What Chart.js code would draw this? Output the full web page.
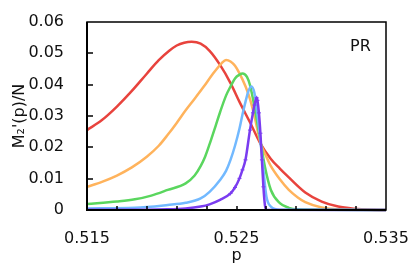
<!DOCTYPE html>
<html>
<head>
<meta charset="UTF-8">
<title>M2'(p)/N vs p</title>
<script src="https://cdn.jsdelivr.net/npm/chart.js"></script>
<style>
  body { margin: 0; background: #fff; }
</style>
</head>
<body>
<canvas id="chart" width="415" height="268"></canvas>
<script>
// values
const redP = [0.515, 0.516, 0.517, 0.518, 0.519, 0.5198, 0.5205, 0.521, 0.5215, 0.522, 0.5226, 0.5232, 0.5239, 0.5246, 0.5252, 0.5259, 0.5266, 0.5273, 0.5279, 0.5285, 0.5296, 0.5307, 0.5318, 0.5329, 0.534, 0.535];
const redV = [0.0255, 0.0287, 0.0330, 0.0380, 0.0435, 0.0478, 0.0508, 0.0525, 0.0534, 0.0537, 0.0531, 0.0508, 0.0463, 0.0405, 0.0345, 0.0280, 0.0212, 0.0163, 0.0132, 0.0104, 0.0056, 0.0027, 0.0011, 0.0004, 0.0001, 0];

const orangeP = [0.515, 0.516, 0.517, 0.518, 0.519, 0.5198, 0.5204, 0.521, 0.5216, 0.5222, 0.5228, 0.5234, 0.524, 0.5243, 0.5246, 0.5249, 0.5252, 0.5256, 0.5259, 0.5262, 0.5266, 0.527, 0.5273, 0.5279, 0.5285, 0.5291, 0.5296, 0.5307, 0.5318, 0.535];
const orangeV = [0.0074, 0.0090, 0.0110, 0.0136, 0.0170, 0.0205, 0.0240, 0.0278, 0.0318, 0.0355, 0.0393, 0.0433, 0.0468, 0.0479, 0.0474, 0.0460, 0.0436, 0.0395, 0.0355, 0.0300, 0.0215, 0.0170, 0.0140, 0.0098, 0.0064, 0.0040, 0.0025, 0.0008, 0.0002, 0];

const greenP = [0.515, 0.517, 0.5182, 0.5193, 0.5204, 0.5216, 0.5222, 0.5226, 0.5229, 0.5232, 0.5236, 0.5239, 0.5243, 0.5246, 0.5249, 0.5252, 0.5254, 0.5257, 0.5259, 0.5262, 0.5266, 0.5269, 0.5273, 0.5279, 0.5285, 0.529, 0.535];
const greenV = [0.0019, 0.0027, 0.0034, 0.0046, 0.0064, 0.0085, 0.0110, 0.0140, 0.0170, 0.0210, 0.0268, 0.0312, 0.0365, 0.0394, 0.0420, 0.0432, 0.0436, 0.0425, 0.0399, 0.0330, 0.0220, 0.0138, 0.0064, 0.0022, 0.0007, 0.0002, 0];

const blueP = [0.515, 0.5182, 0.5204, 0.5216, 0.5226, 0.5232, 0.5239, 0.5243, 0.5246, 0.5249, 0.5252, 0.5254, 0.5256, 0.5258, 0.526, 0.5262, 0.5264, 0.5266, 0.5268, 0.527, 0.5273, 0.5279, 0.535];
const blueV = [0.0005, 0.0007, 0.0016, 0.0023, 0.0037, 0.0058, 0.0096, 0.0125, 0.0160, 0.0205, 0.0260, 0.0305, 0.0345, 0.0380, 0.0394, 0.0373, 0.0305, 0.0220, 0.0128, 0.0043, 0.0011, 0.0001, 0];

const purpleP = [0.515, 0.519, 0.5204, 0.5216, 0.5226, 0.5232, 0.5239, 0.5246, 0.5249, 0.5252, 0.5254, 0.5256, 0.5259, 0.5261, 0.5262, 0.52635, 0.5264, 0.5265, 0.5266, 0.5267, 0.5268, 0.5269, 0.527, 0.535];
const purpleV = [0.0001, 0.0001, 0.0002, 0.0005, 0.0011, 0.0018, 0.0032, 0.0053, 0.0072, 0.0101, 0.0128, 0.0160, 0.0255, 0.0310, 0.0335, 0.0358, 0.0350, 0.0310, 0.0245, 0.0160, 0.0074, 0.0016, 0.0001, 0];

const xLabels = [0.515, 0.525, 0.535];

function pts(ps, vs) {
  return ps.map((p, i) => ({ x: p, y: vs[i] }));
}

function line(label, ps, vs, color) {
  return {
    label: label,
    data: pts(ps, vs),
    borderColor: color,
    backgroundColor: color,
    borderWidth: 2.5,
    pointRadius: 0,
    cubicInterpolationMode: 'monotone',
    clip: 4
  };
}

const purple = line('purple', purpleP, purpleV, '#7a3cf0');
purple.pointStyle = 'cross';
purple.pointRadius = ctx => (ctx.raw && ctx.raw.y > 0.004 ? 2 : 0);
purple.pointBorderWidth = 1;

// box + inward tick marks
const frame = {
  id: 'frame',
  afterDraw(chart) {
    const { ctx, chartArea: a, scales } = chart;
    ctx.save();
    ctx.strokeStyle = '#000';
    ctx.lineWidth = 1.5;
    ctx.strokeRect(a.left, a.top, a.right - a.left, a.bottom - a.top);
    ctx.lineWidth = 2;
    ctx.beginPath();
    ctx.moveTo(a.left, a.top); ctx.lineTo(a.left, a.bottom); ctx.lineTo(a.right, a.bottom);
    ctx.stroke();
    ctx.lineWidth = 1.5;
    scales.x.ticks.forEach(t => {
      const px = Math.round(scales.x.getPixelForValue(t.value));
      if (px <= a.left + 1 || px >= a.right - 1) return;
      ctx.beginPath(); ctx.moveTo(px, a.bottom); ctx.lineTo(px, a.bottom - 4); ctx.stroke();
    });
    scales.y.ticks.forEach(t => {
      const py = Math.round(scales.y.getPixelForValue(t.value));
      if (py <= a.top + 1 || py >= a.bottom - 1) return;
      ctx.beginPath(); ctx.moveTo(a.left, py); ctx.lineTo(a.left + 6, py); ctx.stroke();
    });
    ctx.fillStyle = '#111';
    ctx.font = '16px "DejaVu Sans"';
    ctx.textAlign = 'left';
    ctx.textBaseline = 'alphabetic';
    ctx.fillText('PR', a.right - 36, a.top + 29);
    ctx.restore();
  }
};

new Chart(document.getElementById('chart'), {
  type: 'line',
  data: {
    datasets: [
      purple,
      line('blue', blueP, blueV, '#72b9ff'),
      line('green', greenP, greenV, '#5ad65e'),
      line('orange', orangeP, orangeV, '#ffb35c'),
      line('red', redP, redV, '#e8433d')
    ]
  },
  options: {
    responsive: false,
    animation: false,
    layout: { padding: { top: 22, right: 29, left: 0, bottom: 0 } },
    plugins: { legend: { display: false }, tooltip: { enabled: false } },
    scales: {
      x: {
        type: 'linear',
        min: 0.515,
        max: 0.535,
        grid: { display: false },
        border: { display: false },
        ticks: {
          stepSize: 0.002,
          autoSkip: false,
          maxRotation: 0,
          padding: 11,
          color: '#111',
          font: { family: 'DejaVu Sans', size: 16 },
          callback: v => {
            const hit = xLabels.find(l => Math.abs(l - v) < 1e-6);
            return hit !== undefined ? hit.toFixed(3) : '';
          }
        },
        title: {
          display: true,
          text: 'p',
          color: '#111',
          padding: 3,
          font: { family: 'DejaVu Sans', size: 16 }
        },
        afterFit: s => { s.height = 58; s.paddingLeft = 0; s.paddingRight = 0; }
      },
      y: {
        min: 0,
        max: 0.06,
        grid: { display: false },
        border: { display: false },
        ticks: {
          stepSize: 0.01,
          padding: 15,
          color: '#111',
          font: { family: 'DejaVu Sans', size: 16 },
          callback: v => (Math.abs(v) < 1e-9 ? '0' : v.toFixed(2))
        },
        title: {
          display: true,
          text: 'M\u2082\'(p)/N',
          color: '#111',
          padding: 10,
          font: { family: 'DejaVu Sans', size: 16 }
        },
        afterFit: s => { s.width = 87; s.paddingTop = 0; s.paddingBottom = 0; }
      }
    }
  },
  plugins: [frame]
});
</script>
</body>
</html>
